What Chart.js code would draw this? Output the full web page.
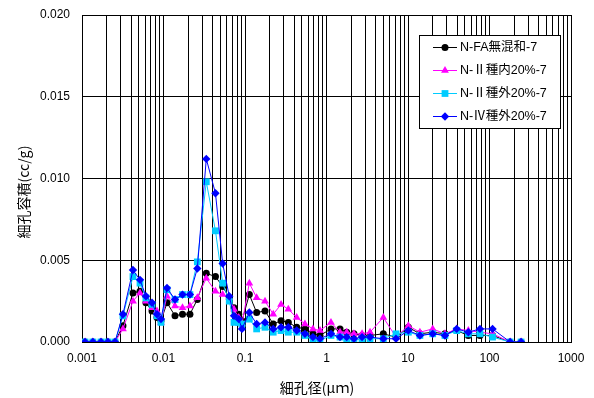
<!DOCTYPE html>
<html><head><meta charset="utf-8">
<script src="https://cdn.jsdelivr.net/npm/chart.js@4/dist/chart.umd.min.js"></script>
<style>html,body{margin:0;padding:0;background:#fff}canvas{display:block}</style>
</head><body>
<canvas id="c" width="594" height="398"></canvas>
<script>
const poreDiameters = [0.00109,0.00136,0.00171,0.00208,0.00254,0.00318,0.00422,0.00515,0.00609,0.00723,0.00832,0.00931,0.01104,0.01384,0.0171,0.0211,0.0260,0.0335,0.0434,0.0532,0.0641,0.0733,0.0838,0.0918,0.113,0.139,0.176,0.222,0.277,0.340,0.431,0.544,0.682,0.832,1.135,1.465,1.77,2.17,2.73,3.42,4.98,7.13,10.1,14.0,20.1,28.4,39.6,55.0,76.4,109,179,244];
const seriesNames = ['N-FA無混和-7','N-Ⅱ種内20%-7','N-Ⅱ種外20%-7','N-Ⅳ種外20%-7'];
const faNone = [0,0,0,0,0,0.0010,0.0030,0.0031,0.0024,0.0019,0.0015,0.0013,0.0024,0.0016,0.0017,0.0017,0.0026,0.0042,0.0040,0.0034,0.0027,0.0021,0.0017,0.0013,0.0029,0.0018,0.0019,0.0011,0.0013,0.0012,0.0009,0.0008,0.0005,0.0004,0.0008,0.0008,0.0006,0.0005,0.0004,0.0004,0.0005,0.0003,0.0009,0.0005,0.0006,0.0005,0.0007,0.0004,0.0004,0.0004,0,0];
const type2In = [0,0,0,0,0,0.0008,0.0025,0.0030,0.0025,0.0021,0.0019,0.0012,0.0028,0.0022,0.0021,0.0022,0.0027,0.0039,0.0031,0.0029,0.0027,0.0020,0.0015,0.0011,0.0036,0.0027,0.0025,0.0017,0.0023,0.0020,0.0015,0.0011,0.0008,0.0007,0.0012,0.0006,0.0006,0.0005,0.0005,0.0006,0.0015,0.0003,0.0010,0.0006,0.0008,0.0005,0.0008,0.0007,0.0006,0.0005,0,0];
const type2Out = [0,0,0,0,0,0.0016,0.0040,0.0036,0.0027,0.0023,0.0016,0.0012,0.0032,0.0026,0.0029,0.0029,0.0049,0.0098,0.0068,0.0036,0.0025,0.0012,0.0012,0.0011,0.0014,0.0008,0.0009,0.0006,0.0007,0.0006,0.0006,0.0004,0.0001,0.0001,0.0004,0.0003,0.0002,0.0001,0.0002,0.0002,0.0002,0.0005,0.0006,0.0004,0.0005,0.0004,0.0007,0.0005,0.0005,0.0003,0,0];
const type4Out = [0,0,0,0,0,0.0017,0.0044,0.0038,0.0028,0.0024,0.0017,0.0014,0.0033,0.0026,0.0029,0.0029,0.0045,0.0112,0.0091,0.0048,0.0028,0.0016,0.0014,0.0008,0.0018,0.0011,0.0012,0.0008,0.0009,0.0009,0.0007,0.0005,0.0003,0.0002,0.0005,0.0003,0.0003,0.0002,0.0003,0.0003,0.0002,0.0002,0.0007,0.0004,0.0005,0.0004,0.0008,0.0006,0.0008,0.0008,0,0];
const xTickLabels = ['0.001','0.01','0.1','1','10','100','1000'];
const yTickLabels = ['0.000','0.005','0.010','0.015','0.020'];
const xTitle = '細孔径(μｍ)';
const yTitle = '細孔容積(cc/g)';

const seriesValues = [faNone, type2In, type2Out, type4Out];
const colors = ['#000000','#FF00FF','#00CCFF','#0000FF'];
const styles = ['circle','triangle','rect','rectRot'];
const radii = [3.5,4.5,4.8,4.2];

const datasets = seriesValues.map((vals,i)=>({
  label: seriesNames[i],
  data: vals.map((v,j)=>({x:poreDiameters[j], y:v})),
  borderColor: colors[i],
  backgroundColor: colors[i],
  borderWidth: 1,
  pointStyle: styles[i],
  pointRadius: radii[i],
  pointBorderWidth: 0,
  order: 3-i,
  tension: 0
}));

const NUMFONT = '"Liberation Sans", Arial, "Noto Sans CJK JP", sans-serif';
const CJKFONT = '"Noto Sans CJK JP", sans-serif';

const decorPlugin = {
  id: 'decor',
  afterDraw(chart){
    const ctx = chart.ctx;
    ctx.save();
    ctx.fillStyle='#000';
    ctx.font='14px '+CJKFONT;
    ctx.textAlign='center';
    ctx.textBaseline='middle';
    ctx.fillText(xTitle, 317, 388);
    ctx.save();
    ctx.translate(24, 192);
    ctx.rotate(-Math.PI/2);
    ctx.fillText(yTitle, 0, 0);
    ctx.restore();
    const x0=419, y0=35, w=141, h=93;
    ctx.fillStyle='#fff';
    ctx.fillRect(x0,y0,w,h);
    ctx.strokeStyle='#000';
    ctx.lineWidth=1;
    ctx.strokeRect(x0+0.5,y0+0.5,w,h);
    const rows=[47,70,93,116];
    chart.data.datasets.forEach((ds,i)=>{
      const y=rows[i];
      ctx.strokeStyle=ds.borderColor;
      ctx.lineWidth=1;
      ctx.beginPath();ctx.moveTo(433,y+0.5);ctx.lineTo(457,y+0.5);ctx.stroke();
      ctx.fillStyle=ds.backgroundColor;
      Chart.helpers.drawPoint(ctx,{pointStyle:ds.pointStyle,rotation:0,borderWidth:0,radius:ds.pointRadius},445,y+0.5);
      ctx.fillStyle='#000';
      ctx.font='12.5px '+NUMFONT;
      ctx.textBaseline='middle';
      ctx.textAlign='left';
      ctx.fillText(ds.label,460,y+1);
    });
    ctx.restore();
  }
};

new Chart(document.getElementById('c'),{
  type:'line',
  data:{datasets},
  options:{
    responsive:false,
    animation:false,
    layout:{padding:{top:15,right:23,left:0,bottom:0}},
    plugins:{legend:{display:false},tooltip:{enabled:false}},
    scales:{
      x:{
        type:'logarithmic',
        min:0.001,max:1000,
        afterBuildTicks(scale){
          const t=[];
          for(let e=-3;e<=3;e++){
            for(let m=1;m<=9;m++){
              const v=m*Math.pow(10,e);
              if(v<=1000*1.0001) t.push({value:v});
            }
          }
          scale.ticks=t;
        },
        afterFit(scale){scale.height=56;scale.paddingLeft=0;scale.paddingRight=0;},
        ticks:{
          autoSkip:false,maxRotation:0,
          color:'#000',
          font:{family:NUMFONT,size:12},
          padding:9,
          callback(v){
            const l=Math.log10(v);
            if(Math.abs(l-Math.round(l))<1e-6){return xTickLabels[Math.round(l)+3];}
            return '';
          }
        },
        grid:{color:'#000',lineWidth:1,drawTicks:false,tickLength:0},
        border:{color:'#000',width:1},
        title:{display:false}
      },
      y:{
        min:0,max:0.02,
        afterBuildTicks(scale){
          scale.ticks=yTickLabels.map(s=>({value:parseFloat(s)}));
        },
        afterFit(scale){scale.width=82;scale.paddingTop=0;scale.paddingBottom=0;},
        ticks:{
          color:'#000',
          font:{family:NUMFONT,size:12},
          padding:12,
          callback(v,i){return yTickLabels[i];}
        },
        grid:{color:'#000',lineWidth:1,drawTicks:false,tickLength:0},
        border:{color:'#000',width:1},
        title:{display:false}
      }
    }
  },
  plugins:[decorPlugin]
});
</script>
</body></html>
